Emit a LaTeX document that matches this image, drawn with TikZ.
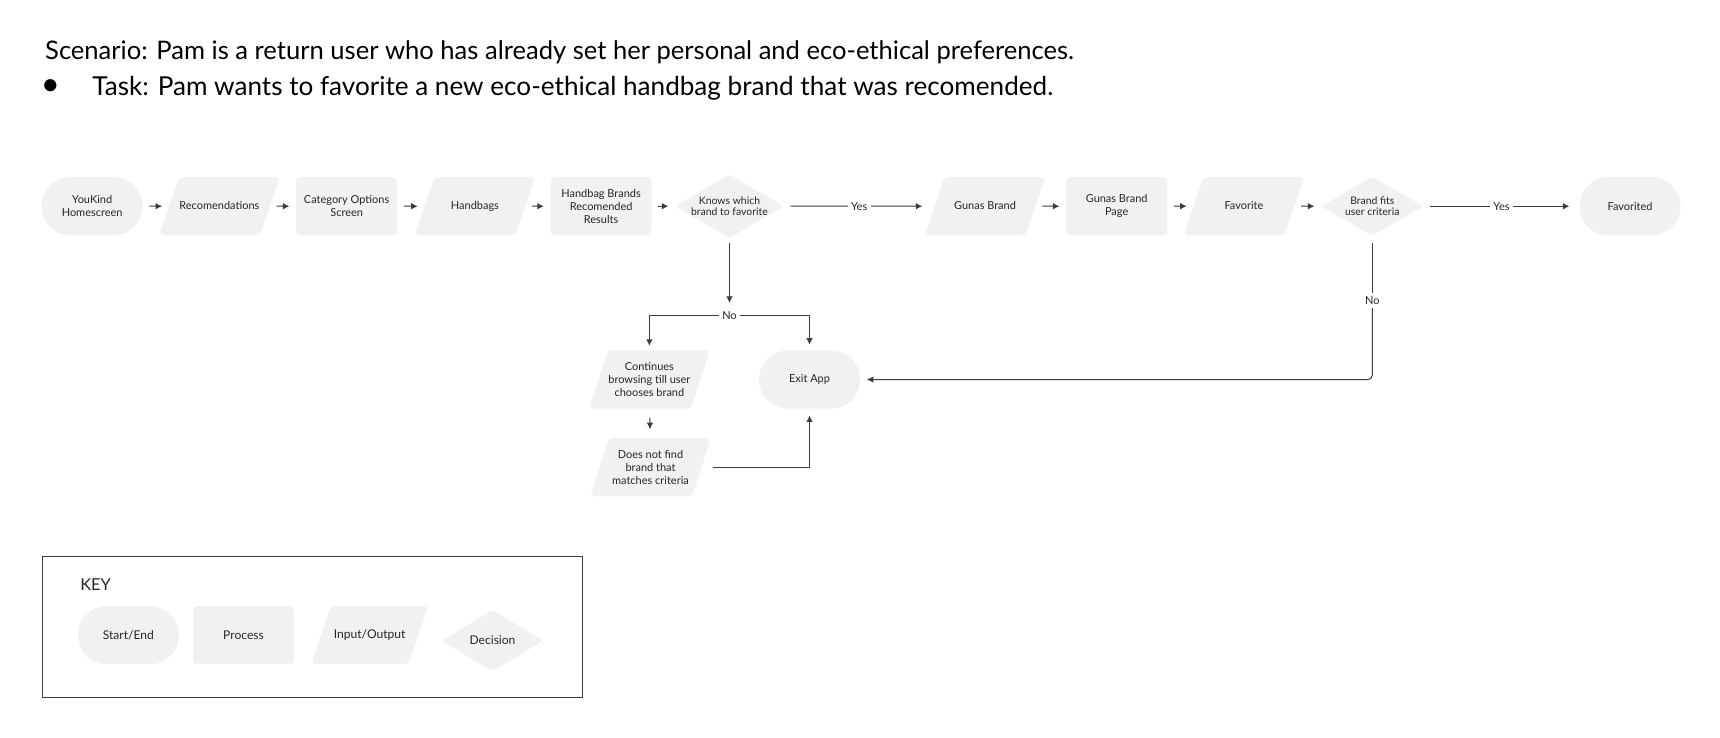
\documentclass[tikz,border=0pt]{standalone}
\usepackage{fontspec}
\setmainfont{Lato}
\usetikzlibrary{positioning}
\usetikzlibrary{shapes.geometric}
\usetikzlibrary{arrows.meta}
\definecolor{boxgray}{HTML}{F1F1F1}
\definecolor{linegray}{HTML}{3C3C3C}
\tikzset{>={Latex[length=6pt,width=6pt]}}
\tikzset{base/.style={fill=boxgray, text=black!85, font=\fontsize{10}{12}\selectfont, align=center, inner sep=0pt}}
\tikzset{term/.style={base, rectangle, rounded corners=26pt, minimum width=92pt, minimum height=53pt}}
\tikzset{proc/.style={base, rectangle, rounded corners=4pt, minimum width=92pt, minimum height=53pt}}
\tikzset{iobase/.style={base, trapezium, trapezium left angle=71, trapezium right angle=109, trapezium stretches body=true, rounded corners=4pt, minimum width=110pt, minimum height=53pt}}
\tikzset{io/.style={iobase, inner ysep=21.5pt, text height=7.5pt, text depth=2pt}}
\tikzset{iotall/.style={iobase, inner ysep=9pt}}
\tikzset{dec/.style={base, diamond, shape aspect=1.7, rounded corners=3pt, minimum width=93pt, minimum height=54pt, font=\fontsize{9.5}{10}\selectfont}}
\tikzset{flow/.style={draw=linegray, line width=0.9pt}}
\tikzset{lbl/.style={fill=white, inner sep=3pt, text=black!85, font=\fontsize{10}{12}\selectfont}}

\begin{document}
\begin{tikzpicture}[x=1pt, y=-1pt]
        \useasboundingbox (0,0) rectangle (1568,672);

        % scenario
        \node[anchor=base west, inner sep=0pt, font=\fontsize{23.3}{28}\selectfont] (scen) at (41,54.5)
          {Scenario: Pam is a return user who has already set her personal and eco-ethical preferences.};
        \node[inner sep=0pt, font=\fontsize{30}{30}\selectfont] (bul) at (46,80) {•};
        \node[anchor=base west, inner sep=0pt, font=\fontsize{23.8}{28}\selectfont] (task) at (84,87)
          {Task: Pam wants to favorite a new eco-ethical handbag brand that was recomended.};

        \begin{scope}[on grid]
        \node[term] (home) at (84,188) {YouKind\\Homescreen};
        \node[io, right=116pt of home] (recs) {Recomendations};
        \node[proc, right=116pt of recs] (cat) {Category Options\\Screen};
        \node[io, right=117pt of cat] (bags) {Handbags};
        \node[proc, right=115pt of bags] (brands) {Handbag Brands\\Recomended\\Results};
        \node[dec, right=117pt of brands] (knows) {Knows which\\brand to favorite};
        \node[io, right=233pt of knows] (gunas) {Gunas Brand};
        \node[proc, right=120pt of gunas] (page) {Gunas Brand\\Page};
        \node[io, right=116pt of page] (fav) {Favorite};
        \node[dec, right=117pt of fav] (fits) {Brand fits\\user criteria};
        \node[term, right=235pt of fits] (done) {Favorited};
        \end{scope}

        \node[lbl] (no1) at (665,288) {No};
        \node[iotall] (cont) at (592,346) {Continues\\browsing till user\\chooses brand};
        \node[iotall] (none) at (593,426) {Does not find\\brand that\\matches criteria};
        \node[term] (exit) at (738,346) {Exit App};
        \node[lbl] (no2) at (1251,274) {No};

        \foreach \u/\v in {home/recs, recs/cat, cat/bags, bags/brands, brands/knows, gunas/page, page/fav, fav/fits}
          \draw[flow, ->, shorten <=6pt, shorten >=6pt] (\u) -- (\v);

        \draw[flow, ->, shorten <=6pt, shorten >=11pt] (knows) -- node[lbl] {Yes} (gunas);
        \draw[flow, ->, shorten <=6pt, shorten >=9pt] (fits) -- node[lbl] {Yes} (done);

        \draw[flow, ->, shorten <=4pt, shorten >=5pt] (knows) -- (no1);
        \draw[flow, ->, shorten >=4pt] (no1) -| (cont);
        \draw[flow, ->, shorten >=5pt] (no1) -| (exit);
        \draw[flow, ->, shorten <=8pt, shorten >=8pt] (cont) -- (none);
        \draw[flow, ->, shorten <=10pt, shorten >=6pt] (none) -| (exit);
        \draw[flow, shorten <=6pt] (fits) -- (no2);
        \draw[flow, ->, rounded corners=4pt, shorten >=6pt] (no2) |- (exit);

        % key
        \node[draw=linegray, line width=0.8pt, minimum width=493pt, minimum height=128pt, anchor=north west] (keybox) at (38,507) {};
        \node[anchor=west, inner sep=0pt, text=black!85, font=\fontsize{15}{18}\selectfont] (keyhead) at (73,533) {KEY};
        \node[term, font=\fontsize{11}{13}\selectfont] (kterm) at (117,579) {Start/End};
        \node[proc, font=\fontsize{11}{13}\selectfont] (kproc) at (222,579) {Process};
        \node[io, minimum width=107pt, font=\fontsize{11}{13}\selectfont] (kio) at (337,579) {Input/Output};
        \node[dec, minimum height=56pt, font=\fontsize{11}{13}\selectfont] (kdec) at (449,584) {Decision};
\end{tikzpicture}
\end{document}
